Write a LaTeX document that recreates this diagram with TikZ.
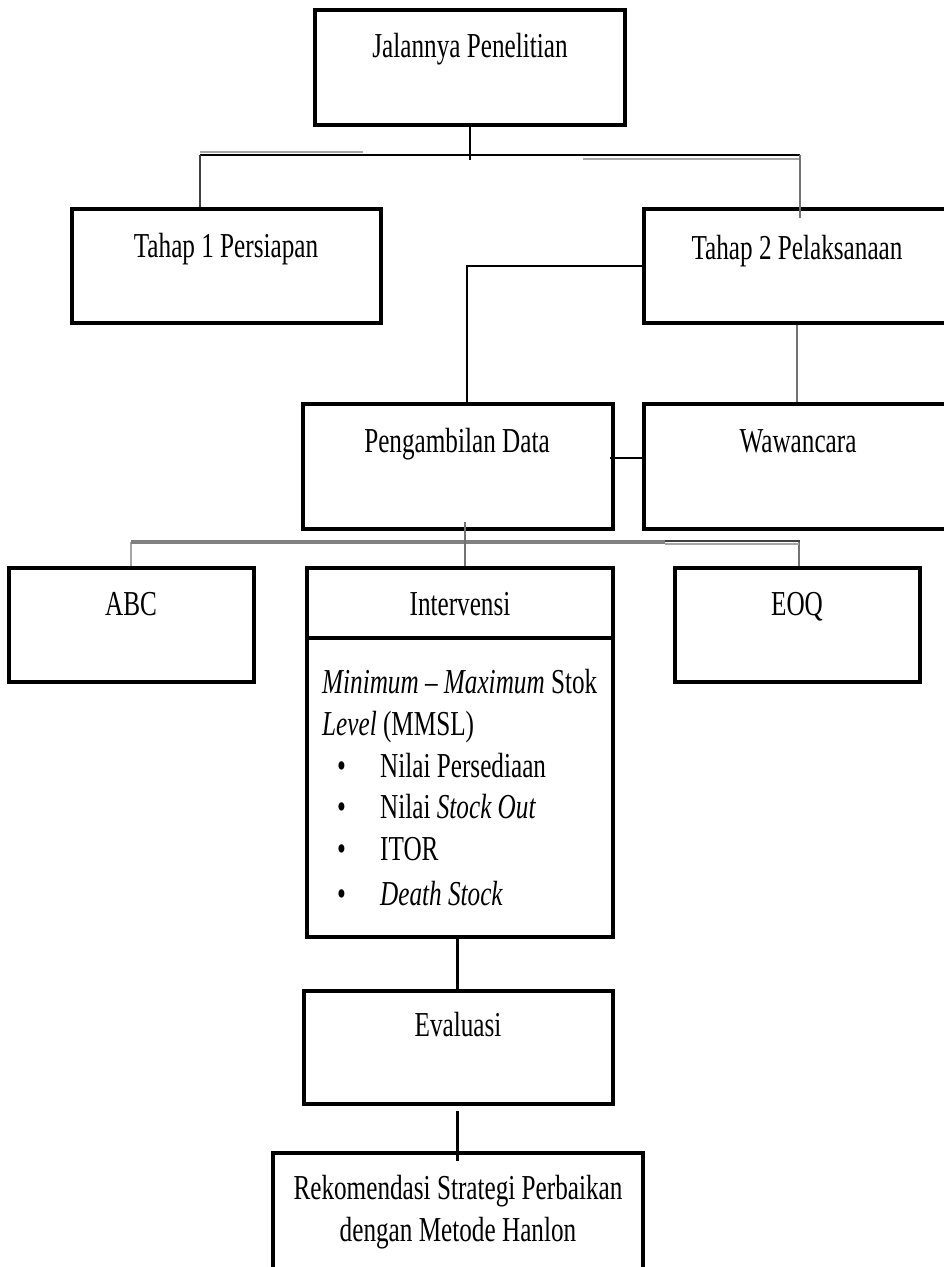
\documentclass[tikz,border=0pt]{standalone}
\usepackage{fontspec}
\setmainfont{Liberation Serif}[FakeStretch=0.72]
\newcommand{\boxfont}{\fontsize{35}{43}\selectfont}
\begin{document}
\begin{tikzpicture}[x=1pt,y=-1pt,
  box/.style={draw=black, line width=3.2pt, inner sep=0pt, fill=none},
  txt/.style={anchor=base, inner sep=0pt, font=\boxfont},
  ltxt/.style={anchor=base west, inner sep=0pt, font=\boxfont},
  conn/.style={draw=black, line width=2.6pt},
  gconn/.style={draw=black!55, line width=2.2pt},
  lgconn/.style={draw=black!35, line width=1.8pt}
]
\useasboundingbox (0,0) rectangle (943,1267);
\fill[white] (0,0) rectangle (943,1267);

% boxes
\node[box, minimum width=310pt, minimum height=115pt] (top) at (470,67.5) {};
\node[box, minimum width=309pt, minimum height=114pt] (t1) at (226.5,266) {};
\node[box, minimum width=306pt, minimum height=114pt] (t2) at (797,266) {};
\node[box, minimum width=310pt, minimum height=125pt] (pd) at (458,466.5) {};
\node[box, minimum width=306pt, minimum height=125pt] (ww) at (797,466.5) {};
\node[box, minimum width=245pt, minimum height=114pt] (abc) at (131.5,625) {};
\node[box, minimum width=306pt, minimum height=369pt] (iv) at (460,752.5) {};
\node[box, minimum width=245pt, minimum height=114pt] (eoq) at (797.5,625) {};
\node[box, minimum width=309pt, minimum height=113pt] (ev) at (458.5,1047.5) {};
\node[box, minimum width=370pt, minimum height=137pt] (rk) at (458,1221.5) {};

% divider inside Intervensi
\coordinate (ivdl) at (307,638);
\coordinate (ivdr) at (613,638);
\draw[line width=3.2pt] (ivdl) -- (ivdr);

% texts
\node[txt] (ttop) at (470,57) {Jalannya Penelitian};
\node[txt] (tt1) at (226,257) {Tahap 1 Persiapan};
\node[txt] (tt2) at (797,259) {Tahap 2 Pelaksanaan};
\node[txt] (tpd) at (457,452) {Pengambilan Data};
\node[txt] (tww) at (798,452) {Wawancara};
\node[txt] (tabc) at (131,615) {ABC};
\node[txt] (tiv) at (460,615) {Intervensi};
\node[txt] (teoq) at (797,615) {EOQ};
\node[ltxt] (l1) at (322,693) {\textit{Minimum – Maximum} Stok};
\node[ltxt] (l2) at (322,735) {\textit{Level} (MMSL)};
\node[ltxt] (b1) at (337,777) {\textbullet};
\node[ltxt] (l3) at (380,777) {Nilai Persediaan};
\node[ltxt] (b2) at (337,818) {\textbullet};
\node[ltxt] (l4) at (380,818) {Nilai \textit{Stock Out}};
\node[ltxt] (b3) at (337,860) {\textbullet};
\node[ltxt] (l5) at (380,860) {ITOR};
\node[ltxt] (b4) at (337,905) {\textbullet};
\node[ltxt] (l6) at (380,905) {\textit{Death Stock}};
\node[txt] (tev) at (458,1036) {Evaluasi};
\node[txt] (trk1) at (458,1199) {Rekomendasi Strategi Perbaikan};
\node[txt] (trk2) at (458,1241) {dengan Metode Hanlon};

% connectors: top level
\coordinate (bus1m) at (470,160);
\coordinate (bus1l) at (200,155);
\coordinate (bus1r) at (800,155);
\coordinate (t2in) at (800,218);
\draw[conn, line width=1.8pt] (top.south -| bus1m) -- (bus1m);
\draw[lgconn, line width=2.2pt] (200,152) -- (363,152);
\draw[lgconn, line width=2.2pt] (583,159) -- (800,159);
\draw[conn] (bus1l) -- (bus1r);
\draw[conn, draw=black!75] (bus1l) -- (bus1l |- t1.north);
\draw[gconn] (bus1r) -- (t2in);

% Tahap 2 -> Pengambilan Data, Wawancara
\coordinate (pdk) at (467,266);
\draw[conn] (t2.west |- pdk) -- (pdk) -- (pdk |- pd.north);
\draw[gconn, line width=1.8pt] (t2.south) -- (ww.north);
\coordinate (pwl) at (610,458);
\draw[conn] (pwl) -- (pwl -| ww.west);

% Pengambilan Data -> ABC, Intervensi, EOQ
\coordinate (pdb) at (465,522);
\coordinate (bus2l) at (131,542);
\coordinate (bus2m) at (665,542);
\coordinate (bus2r) at (799,542);
\draw[lgconn] (bus2l) -- (bus2l |- abc.north);
\draw[gconn] (bus2r) -- (bus2r |- eoq.north);
\draw[draw=black!50, line width=4.5pt] (bus2l) -- (bus2m);
\draw[lgconn, line width=2.2pt] (bus2m) ++(0,2) -- (799,544);
\draw[draw=black!75, line width=2.4pt] (bus2m) ++(0,-1) -- (800,541);
\draw[gconn] (pdb) -- (pdb |- iv.north);

% Intervensi -> Evaluasi -> Rekomendasi
\coordinate (ivb) at (457,937);
\coordinate (evb) at (457,1111);
\coordinate (rkin) at (457,1161);
\draw[conn, line width=3pt] (ivb) -- (ivb |- ev.north);
\draw[conn, line width=3pt] (evb) -- (rkin);
\end{tikzpicture}
\end{document}
